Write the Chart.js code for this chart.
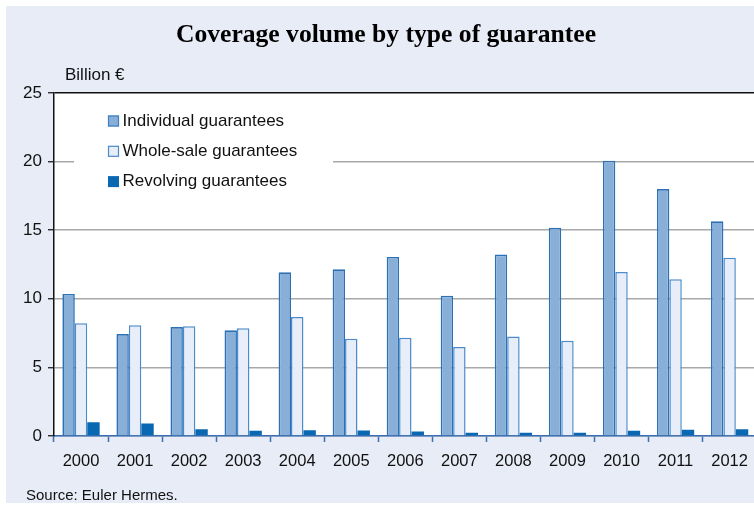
<!DOCTYPE html>
<html>
<head>
<meta charset="utf-8">
<script src="https://cdn.jsdelivr.net/npm/chart.js@4"></script>
<style>
  html, body { margin: 0; padding: 0; background: #fff; overflow: hidden; }
  #wrap { position: relative; width: 754px; height: 507px; overflow: hidden; }
  #panel { position: absolute; left: 6px; top: 6px; width: 748px; height: 497px; background: #e8ecf7; }
  #chart { position: absolute; left: 0; top: 0; }
  .txt { position: absolute; font-family: "Liberation Sans", Arial, sans-serif; color: #111; white-space: nowrap; line-height: 1; }
  #title { left: 0; width: 772px; top: 21px; text-align: center; font-family: "Liberation Serif", "Times New Roman", serif; font-weight: bold; font-size: 25.6px; color: #000; }
  #unit { left: 65px; top: 65.5px; font-size: 17px; }
  #source { left: 26px; top: 486.5px; font-size: 15px; }
</style>
</head>
<body>
<div id="wrap">
  <div id="panel"></div>
  <canvas id="chart" width="758" height="507"></canvas>
  <div class="txt" id="title">Coverage volume by type of guarantee</div>
  <div class="txt" id="unit">Billion €</div>
  <div class="txt" id="source">Source: Euler Hermes.</div>
</div>
<script>
const years = ["2000","2001","2002","2003","2004","2005","2006","2007","2008","2009","2010","2011","2012"];
const individual = [10.35, 7.43, 7.94, 7.7, 11.93, 12.15, 13.05, 10.23, 13.22, 15.18, 20.07, 18.0, 15.65];
const wholesale  = [8.21, 8.07, 8.0, 7.85, 8.67, 7.09, 7.17, 6.49, 7.26, 6.95, 11.95, 11.42, 13.0];
const revolving  = [1.0, 0.92, 0.49, 0.39, 0.41, 0.4, 0.32, 0.24, 0.24, 0.24, 0.39, 0.46, 0.49];
const yTicks = [0, 5, 10, 15, 20, 25];

const font = "Liberation Sans, Arial, sans-serif";

// white plot background
const plotBg = {
  id: "plotBg",
  beforeDraw(chart) {
    const a = chart.chartArea, ctx = chart.ctx;
    ctx.save();
    ctx.fillStyle = "#fff";
    ctx.fillRect(a.left, a.top, a.right - a.left, a.bottom - a.top);
    ctx.restore();
  }
};

// legend box sitting inside the plot, top left
const boxLegend = {
  id: "boxLegend",
  beforeDatasetsDraw(chart) {
    const ctx = chart.ctx;
    ctx.save();
    ctx.fillStyle = "#fff";
    ctx.fillRect(74, 100, 259, 100);
    ctx.font = "17px " + font;
    ctx.textBaseline = "middle";
    chart.data.datasets.forEach((ds, i) => {
      const y = 120.5 + i * 30.3;
      ctx.fillStyle = ds.backgroundColor;
      ctx.fillRect(108, y - 5, 11, 11);
      if (ds.legendBorder) {
        ctx.strokeStyle = ds.legendBorder;
        ctx.lineWidth = 1.2;
        ctx.strokeRect(108.5, y - 4.5, 10, 10);
      }
      ctx.fillStyle = "#111";
      ctx.fillText(ds.label, 122.5, y + 0.5);
    });
    ctx.restore();
  }
};

new Chart(document.getElementById("chart"), {
  type: "bar",
  data: {
    labels: years,
    datasets: [
      {
        label: "Individual guarantees",
        data: individual,
        backgroundColor: "#88afd8",
        borderColor: "#2c70b5",
        legendBorder: "#3d7fc2",
        borderWidth: 1.6,
        borderSkipped: "bottom"
      },
      {
        label: "Whole-sale guarantees",
        data: wholesale,
        backgroundColor: "#e8eef9",
        borderColor: "#4c8bcb",
        legendBorder: "#4c8bcb",
        borderWidth: 1.5,
        borderSkipped: "bottom"
      },
      {
        label: "Revolving guarantees",
        data: revolving,
        backgroundColor: "#0a68b2",
        borderWidth: 0
      }
    ]
  },
  options: {
    responsive: false,
    animation: false,
    layout: { padding: { top: 93, left: 0, right: 1, bottom: 0 } },
    datasets: { bar: { categoryPercentage: 0.69, barPercentage: 1.0 } },
    plugins: {
      legend: { display: false },
      title: { display: false },
      tooltip: { enabled: false }
    },
    scales: {
      x: {
        afterFit(scale) { scale.height = 71; },
        border: { color: "#3a6fb3", width: 1.5 },
        grid: {
          offset: true,
          drawOnChartArea: false,
          drawTicks: true,
          tickLength: 6,
          tickColor: "#3a6fb3",
          tickWidth: 1.5
        },
        ticks: {
          font: { family: font, size: 16.5 },
          color: "#111",
          padding: 10,
          maxRotation: 0
        }
      },
      y: {
        min: 0,
        max: 25,
        afterFit(scale) { scale.width = 54; },
        afterBuildTicks(scale) { scale.ticks = yTicks.map(v => ({ value: v })); },
        border: { color: "#111", width: 1.5 },
        grid: {
          color: ctx => ctx.tick && ctx.tick.value === 25 ? "#111" : "#a8a8a8",
          lineWidth: 1.5,
          tickLength: 6,
          tickColor: "#111",
          tickWidth: 1.2
        },
        ticks: {
          font: { family: font, size: 17 },
          color: "#111",
          padding: 6
        }
      }
    }
  },
  plugins: [plotBg, boxLegend]
});
</script>
</body>
</html>
